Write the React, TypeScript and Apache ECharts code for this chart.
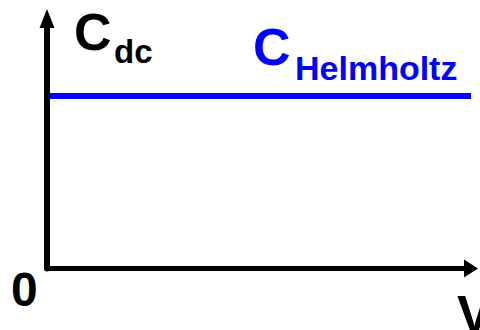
import React, { useEffect, useRef } from "react";
import * as echarts from "echarts";

const voltage = [0, 1];
const helmholtz = [69, 69];
const yRange = [0, 100];

export default function App() {
  const ref = useRef<HTMLDivElement>(null);
  useEffect(() => {
    const chart = echarts.init(ref.current!, undefined, { renderer: "svg" });
    const font = (s: number) => `bold ${s}px "Liberation Sans", Arial, sans-serif`;
    chart.setOption({
      animation: false,
      grid: { left: 47, right: 9, top: 18.5, bottom: 61.5 },
      xAxis: {
        type: "value",
        min: voltage[0],
        max: voltage[voltage.length - 1],
        z: 10,
        axisLine: {
          show: true,
          lineStyle: { color: "#000", width: 5 },
          symbol: ["none", "triangle"],
          symbolSize: [18, 14],
        },
        axisTick: { show: false },
        axisLabel: { show: false },
        splitLine: { show: false },
      },
      yAxis: {
        type: "value",
        min: yRange[0],
        max: yRange[1],
        z: 10,
        axisLine: {
          show: true,
          lineStyle: { color: "#000", width: 6 },
          symbol: ["none", "triangle"],
          symbolSize: [15, 19],
        },
        axisTick: { show: false },
        axisLabel: { show: false },
        splitLine: { show: false },
      },
      series: [
        {
          type: "line",
          data: voltage.map((v, i) => [v, helmholtz[i]]),
          showSymbol: false,
          lineStyle: { color: "#0000ff", width: 6 },
          z: 2,
        },
      ],
      graphic: [
        { type: "text", x: 74, y: 31.5, style: { text: "C", fill: "#000", font: font(52), verticalAlign: "middle" } },
        { type: "text", x: 114, y: 51, style: { text: "dc", fill: "#000", font: font(33), verticalAlign: "middle" } },
        { type: "text", x: 253, y: 46.5, style: { text: "C", fill: "#0000ff", font: font(52), verticalAlign: "middle" } },
        { type: "text", x: 295, y: 68, style: { text: "Helmholtz", fill: "#0000ff", font: font(34), verticalAlign: "middle" } },
        { type: "text", x: 11, y: 289, style: { text: "0", fill: "#000", font: font(48), verticalAlign: "middle" } },
        { type: "text", x: 457, y: 313.6, style: { text: "V", fill: "#000", font: font(52), verticalAlign: "middle" } },
      ],
    });
    return () => chart.dispose();
  }, []);
  return (
    <div
      ref={ref}
      style={{ position: "fixed", left: 0, top: 0, width: 480, height: 330, background: "#fff" }}
    />
  );
}
